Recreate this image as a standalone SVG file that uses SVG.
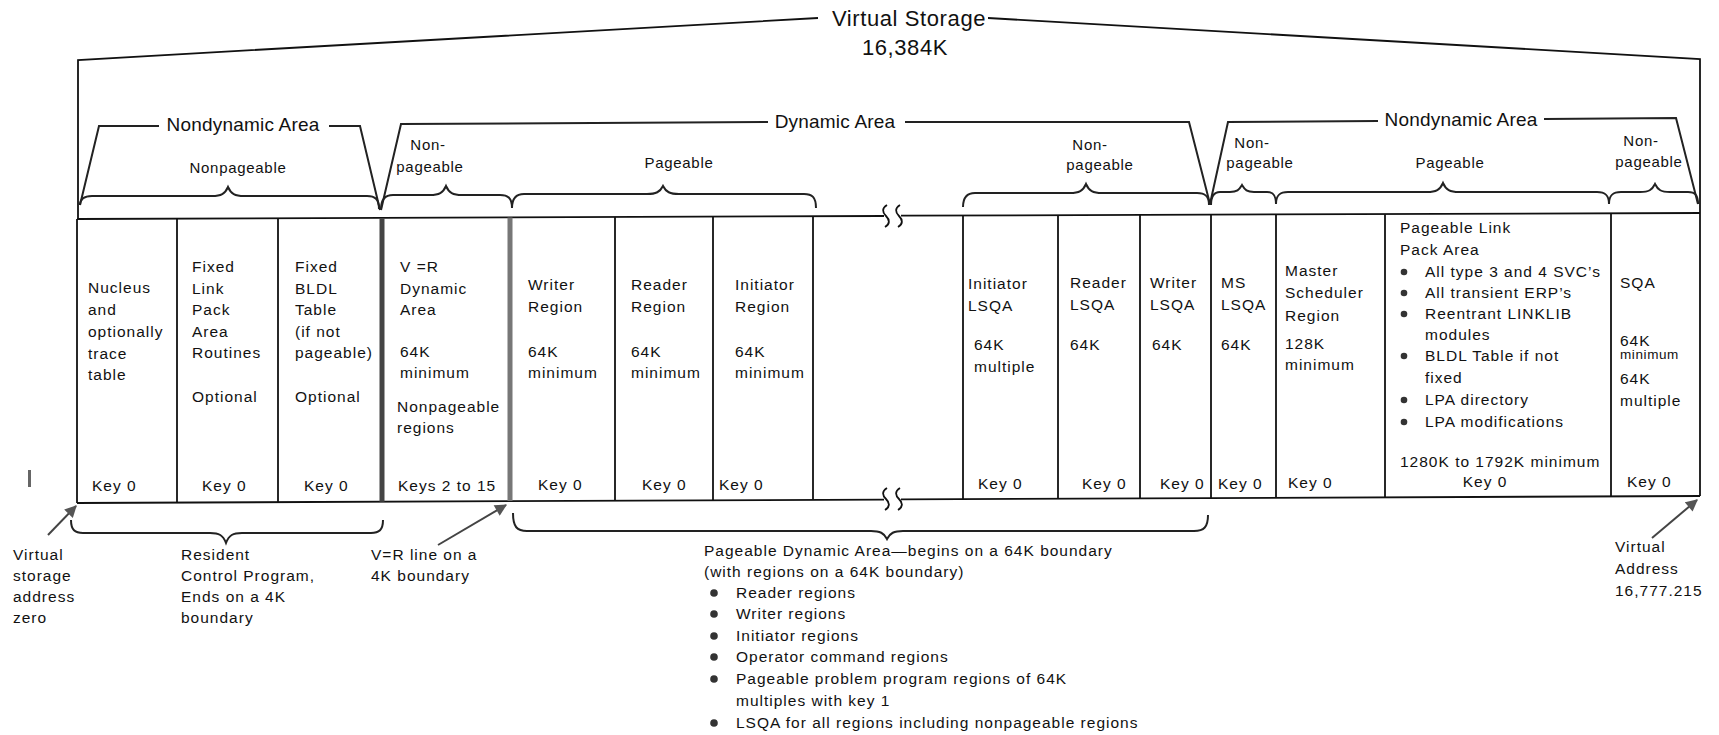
<svg xmlns="http://www.w3.org/2000/svg" width="1719" height="735" viewBox="0 0 1719 735">
<style>
.t{font-family:"Liberation Sans",Arial,sans-serif;font-size:15.5px;letter-spacing:1px;fill:#111}
.s{font-size:13.5px;letter-spacing:0.6px}
.lb{font-family:"Liberation Sans",Arial,sans-serif;font-size:15px;letter-spacing:0.7px;fill:#111;text-anchor:middle}
.h{font-family:"Liberation Sans",Arial,sans-serif;font-size:19px;letter-spacing:0.2px;fill:#111;text-anchor:middle}
.ti{font-family:"Liberation Sans",Arial,sans-serif;font-size:22px;letter-spacing:0.6px;fill:#111;text-anchor:middle}
.ln{stroke:#111;stroke-width:1.8;fill:none}
.br{stroke:#222;stroke-width:2;fill:none}
.thk{stroke-width:5;fill:none}
.ar{stroke:#444;stroke-width:2;fill:none;marker-end:url(#ah)}
.bul{fill:#333}
</style>
<defs>
<marker id="ah" viewBox="0 0 10 10" refX="9" refY="5" markerUnits="userSpaceOnUse" markerWidth="14" markerHeight="12" orient="auto">
<path d="M0,0 L10,5 L0,10 z" fill="#555"/>
</marker>
</defs>
<rect width="1719" height="735" fill="#fff"/>

<g id="frame">
<path class="ln" d="M78,219 V60 L818,18"/>
<path class="ln" d="M988,18 L1700,59 V213"/>
<text class="ti" x="909" y="26">Virtual Storage</text>
<text class="ti" x="905" y="55">16,384K</text>
<line class="ln" x1="77" y1="219" x2="884" y2="216"/>
<line class="ln" x1="901" y1="215.7" x2="1700" y2="213"/>
<line class="ln" x1="77" y1="503" x2="884" y2="499.6"/>
<line class="ln" x1="901" y1="499.4" x2="1700" y2="496"/>
<line class="ln" x1="77" y1="219" x2="77" y2="503"/>
<line class="ln" x1="1700" y1="213" x2="1700" y2="496"/>
<path class="ln" d="M887,205 c-5,3 -5,7 -1,11 c4,4 4,8 -1,11"/>
<path class="ln" d="M900,205 c-5,3 -5,7 -1,11 c4,4 4,8 -1,11"/>
<path class="ln" d="M887,488 c-5,3 -5,7 -1,11 c4,4 4,8 -1,11"/>
<path class="ln" d="M900,488 c-5,3 -5,7 -1,11 c4,4 4,8 -1,11"/>
<rect x="28" y="470" width="3" height="17" fill="#666"/>
</g>

<g id="dividers">
<line class="ln" x1="177" y1="218.6" x2="177" y2="502.6"/>
<line class="ln" x1="278" y1="218.3" x2="278" y2="502.1"/>
<line class="thk" stroke="#444" x1="382" y1="218" x2="382" y2="501.7"/>
<line class="thk" stroke="#777" x1="510" y1="217.4" x2="510" y2="501.1"/>
<line class="ln" x1="615" y1="217" x2="615" y2="500.7"/>
<line class="ln" x1="713" y1="216.6" x2="713" y2="500.3"/>
<line class="ln" x1="813" y1="216.3" x2="813" y2="499.8"/>
<line class="ln" x1="963" y1="215.7" x2="963" y2="499.2"/>
<line class="ln" x1="1058" y1="215.4" x2="1058" y2="498.8"/>
<line class="ln" x1="1140" y1="215.1" x2="1140" y2="498.4"/>
<line class="ln" x1="1211" y1="214.8" x2="1211" y2="498.1"/>
<line class="ln" x1="1276" y1="214.6" x2="1276" y2="497.8"/>
<line class="ln" x1="1385" y1="214.2" x2="1385" y2="497.4"/>
<line class="ln" x1="1611" y1="213.3" x2="1611" y2="496.4"/>
</g>

<g id="area-brackets">
<path class="br" d="M80,205 L99,126 L159,126"/>
<text class="h" x="243" y="131">Nondynamic Area</text>
<path class="br" d="M329,126 L360,126 L380,210"/>
<path class="br" d="M381,210 L401,124 L768,122"/>
<text class="h" x="835" y="128">Dynamic Area</text>
<path class="br" d="M905,122 L1189,122 L1210,204"/>
<path class="br" d="M1210,204 L1228,122 L1378,121"/>
<text class="h" x="1461" y="126">Nondynamic Area</text>
<path class="br" d="M1544,119 L1676,118 L1698,204"/>
</g>

<g id="top-braces">
<path class="br" d="M80,205 C80,199 84,196 92,196 L212,196 C221,196 225,194 228,187 C231,194 235,196 244,196 L367,196 C375,196 379,199 379,209"/>
<text class="lb" x="238" y="173">Nonpageable</text>
<path class="br" d="M381,209 C381,199 385,195 393,195 L430,195 C439,195 443,193 446,186 C449,193 453,195 462,195 L500,195 C508,195 512,198 512,208"/>
<text class="lb" x="428" y="150">Non-</text>
<text class="lb" x="430" y="172">pageable</text>
<path class="br" d="M512,208 C512,198 516,194 524,194 L647,194 C656,194 660,192 663,186 C666,192 670,194 679,194 L804,194 C812,194 816,197 816,208"/>
<text class="lb" x="679" y="168">Pageable</text>
<path class="br" d="M963,207 C963,197 967,193 975,193 L1070,193 C1079,193 1083,191 1086,184 C1089,191 1093,193 1102,193 L1197,193 C1205,193 1209,196 1209,205"/>
<text class="lb" x="1090" y="150">Non-</text>
<text class="lb" x="1100" y="170">pageable</text>
<path class="br" d="M1211,205 C1211,196 1214,192 1220,192 L1230,192 C1237,192 1239,190 1242,185 C1245,190 1247,192 1254,192 L1267,192 C1273,192 1276,195 1276,204"/>
<text class="lb" x="1252" y="148">Non-</text>
<text class="lb" x="1260" y="168">pageable</text>
<path class="br" d="M1276,204 C1276,195 1280,192 1288,192 L1427,192 C1436,192 1440,190 1443,183 C1446,190 1450,192 1459,192 L1597,192 C1605,192 1609,195 1609,204"/>
<text class="lb" x="1450" y="168">Pageable</text>
<path class="br" d="M1609,204 C1609,195 1613,192 1621,192 L1640,192 C1649,192 1652,190 1655,184 C1658,190 1661,192 1670,192 L1688,192 C1695,192 1698,195 1698,204"/>
<text class="lb" x="1641" y="146">Non-</text>
<text class="lb" x="1649" y="167">pageable</text>
</g>

<g id="nucleus">
<text class="t" x="88" y="293">Nucleus</text>
<text class="t" x="88" y="315">and</text>
<text class="t" x="88" y="337">optionally</text>
<text class="t" x="88" y="359">trace</text>
<text class="t" x="88" y="380">table</text>
<text class="t" x="92" y="491">Key 0</text>
</g>
<g id="fixed-lpa">
<text class="t" x="192" y="272">Fixed</text>
<text class="t" x="192" y="294">Link</text>
<text class="t" x="192" y="315">Pack</text>
<text class="t" x="192" y="337">Area</text>
<text class="t" x="192" y="358">Routines</text>
<text class="t" x="192" y="402">Optional</text>
<text class="t" x="202" y="491">Key 0</text>
</g>
<g id="fixed-bldl">
<text class="t" x="295" y="272">Fixed</text>
<text class="t" x="295" y="294">BLDL</text>
<text class="t" x="295" y="315">Table</text>
<text class="t" x="295" y="337">(if not</text>
<text class="t" x="295" y="358">pageable)</text>
<text class="t" x="295" y="402">Optional</text>
<text class="t" x="304" y="491">Key 0</text>
</g>
<g id="vr-dynamic">
<text class="t" x="400" y="272">V =R</text>
<text class="t" x="400" y="294">Dynamic</text>
<text class="t" x="400" y="315">Area</text>
<text class="t" x="400" y="357">64K</text>
<text class="t" x="400" y="378">minimum</text>
<text class="t" x="397" y="412">Nonpageable</text>
<text class="t" x="397" y="433">regions</text>
<text class="t" x="398" y="491">Keys 2 to 15</text>
</g>
<g id="writer-region">
<text class="t" x="528" y="290">Writer</text>
<text class="t" x="528" y="312">Region</text>
<text class="t" x="528" y="357">64K</text>
<text class="t" x="528" y="378">minimum</text>
<text class="t" x="538" y="490">Key 0</text>
</g>
<g id="reader-region">
<text class="t" x="631" y="290">Reader</text>
<text class="t" x="631" y="312">Region</text>
<text class="t" x="631" y="357">64K</text>
<text class="t" x="631" y="378">minimum</text>
<text class="t" x="642" y="490">Key 0</text>
</g>
<g id="initiator-region">
<text class="t" x="735" y="290">Initiator</text>
<text class="t" x="735" y="312">Region</text>
<text class="t" x="735" y="357">64K</text>
<text class="t" x="735" y="378">minimum</text>
<text class="t" x="719" y="490">Key 0</text>
</g>
<g id="initiator-lsqa">
<text class="t" x="968" y="289">Initiator</text>
<text class="t" x="968" y="311">LSQA</text>
<text class="t" x="974" y="350">64K</text>
<text class="t" x="974" y="372">multiple</text>
<text class="t" x="978" y="489">Key 0</text>
</g>
<g id="reader-lsqa">
<text class="t" x="1070" y="288">Reader</text>
<text class="t" x="1070" y="310">LSQA</text>
<text class="t" x="1070" y="350">64K</text>
<text class="t" x="1082" y="489">Key 0</text>
</g>
<g id="writer-lsqa">
<text class="t" x="1150" y="288">Writer</text>
<text class="t" x="1150" y="310">LSQA</text>
<text class="t" x="1152" y="350">64K</text>
<text class="t" x="1160" y="489">Key 0</text>
</g>
<g id="ms-lsqa">
<text class="t" x="1221" y="288">MS</text>
<text class="t" x="1221" y="310">LSQA</text>
<text class="t" x="1221" y="350">64K</text>
<text class="t" x="1218" y="489">Key 0</text>
</g>
<g id="master-scheduler">
<text class="t" x="1285" y="276">Master</text>
<text class="t" x="1285" y="298">Scheduler</text>
<text class="t" x="1285" y="321">Region</text>
<text class="t" x="1285" y="349">128K</text>
<text class="t" x="1285" y="370">minimum</text>
<text class="t" x="1288" y="488">Key 0</text>
</g>
<g id="pageable-lpa">
<text class="t" x="1400" y="233">Pageable Link</text>
<text class="t" x="1400" y="255">Pack Area</text>
<circle class="bul" cx="1404" cy="272" r="3.3"/>
<text class="t" x="1425" y="277">All type 3 and 4 SVC’s</text>
<circle class="bul" cx="1404" cy="293" r="3.3"/>
<text class="t" x="1425" y="298">All transient ERP’s</text>
<circle class="bul" cx="1404" cy="314" r="3.3"/>
<text class="t" x="1425" y="319">Reentrant LINKLIB</text>
<text class="t" x="1425" y="340">modules</text>
<circle class="bul" cx="1404" cy="356" r="3.3"/>
<text class="t" x="1425" y="361">BLDL Table if not</text>
<text class="t" x="1425" y="383">fixed</text>
<circle class="bul" cx="1404" cy="400" r="3.3"/>
<text class="t" x="1425" y="405">LPA directory</text>
<circle class="bul" cx="1404" cy="422" r="3.3"/>
<text class="t" x="1425" y="427">LPA modifications</text>
<text class="t" x="1400" y="467">1280K to 1792K minimum</text>
<text class="t" x="1485" y="487" text-anchor="middle">Key 0</text>
</g>
<g id="sqa">
<text class="t" x="1620" y="288">SQA</text>
<text class="t" x="1620" y="346">64K</text>
<text class="t s" x="1620" y="359">minimum</text>
<text class="t" x="1620" y="384">64K</text>
<text class="t" x="1620" y="406">multiple</text>
<text class="t" x="1627" y="487">Key 0</text>
</g>

<g id="connectors">
<line class="ar" x1="48" y1="535" x2="76" y2="506"/>
<line class="ar" x1="438" y1="545" x2="506" y2="505"/>
<line class="ar" x1="1652" y1="538" x2="1697" y2="500"/>
<path class="br" d="M71,520 C71,530 75,533 83,533 L210,533 C219,533 223,535 226,543 C229,535 233,533 242,533 L371,533 C379,533 383,530 383,520"/>
<path class="br" d="M513,513 C513,527 517,531 527,531 L871,531 C880,531 884,533 887,539 C890,533 894,531 903,531 L1194,531 C1204,531 1208,527 1208,515"/>
</g>

<g id="note-address-zero">
<text class="t" x="13" y="560">Virtual</text>
<text class="t" x="13" y="581">storage</text>
<text class="t" x="13" y="602">address</text>
<text class="t" x="13" y="623">zero</text>
</g>
<g id="note-resident">
<text class="t" x="181" y="560">Resident</text>
<text class="t" x="181" y="581">Control Program,</text>
<text class="t" x="181" y="602">Ends on a 4K</text>
<text class="t" x="181" y="623">boundary</text>
</g>
<g id="note-vr-line">
<text class="t" x="371" y="560">V=R line on a</text>
<text class="t" x="371" y="581">4K boundary</text>
</g>
<g id="note-pageable-dynamic">
<text class="t" x="704" y="556">Pageable Dynamic Area—begins on a 64K boundary</text>
<text class="t" x="704" y="577">(with regions on a 64K boundary)</text>
<circle class="bul" cx="714" cy="593" r="3.8"/>
<text class="t" x="736" y="598">Reader regions</text>
<circle class="bul" cx="714" cy="614" r="3.8"/>
<text class="t" x="736" y="619">Writer regions</text>
<circle class="bul" cx="714" cy="636" r="3.8"/>
<text class="t" x="736" y="641">Initiator regions</text>
<circle class="bul" cx="714" cy="657" r="3.8"/>
<text class="t" x="736" y="662">Operator command regions</text>
<circle class="bul" cx="714" cy="679" r="3.8"/>
<text class="t" x="736" y="684">Pageable problem program regions of 64K</text>
<text class="t" x="736" y="706">multiples with key 1</text>
<circle class="bul" cx="714" cy="723" r="3.8"/>
<text class="t" x="736" y="728">LSQA for all regions including nonpageable regions</text>
</g>
<g id="note-virtual-address">
<text class="t" x="1615" y="552">Virtual</text>
<text class="t" x="1615" y="574">Address</text>
<text class="t" x="1615" y="596">16,777.215</text>
</g>
</svg>
